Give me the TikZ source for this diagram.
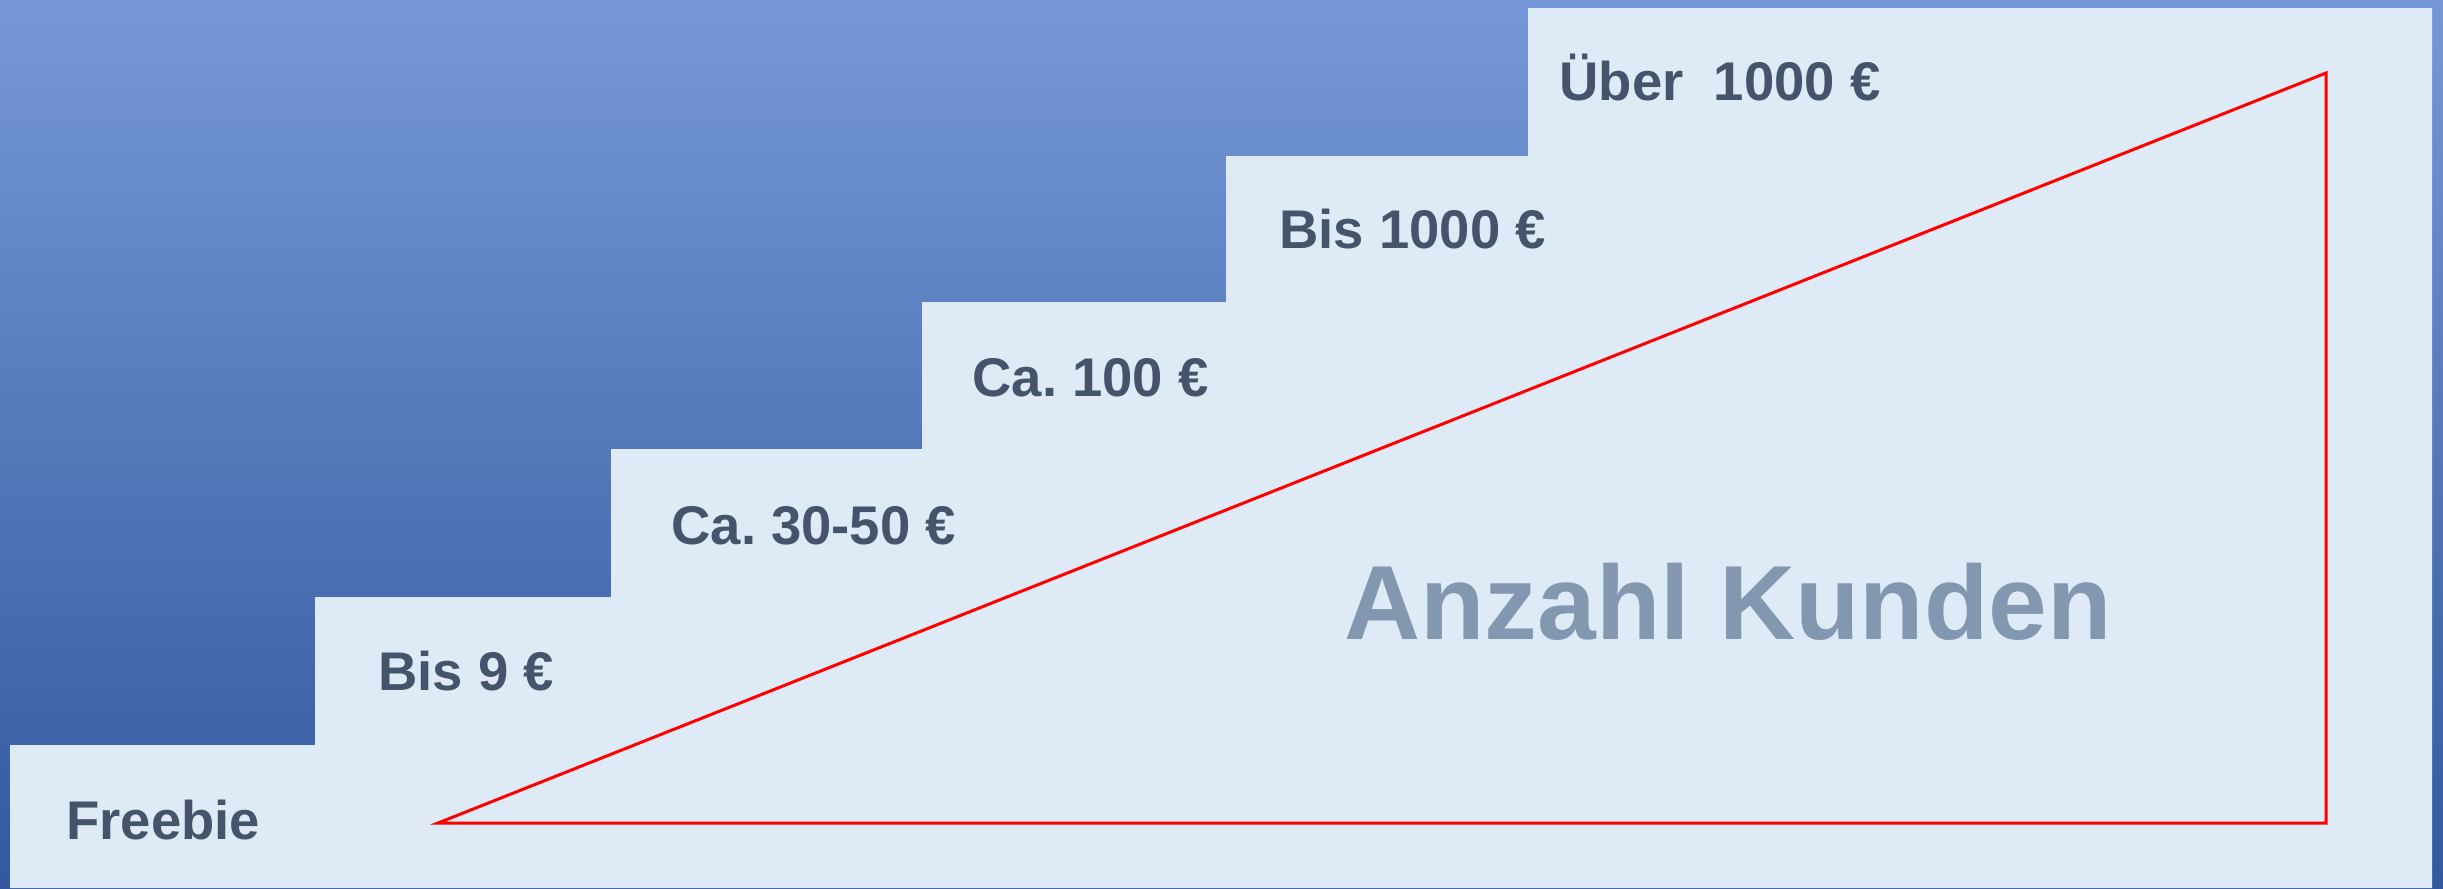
\documentclass[tikz,border=0pt]{standalone}
\usepackage{fontspec}
\setmainfont{Liberation Sans}
\usepackage{xcolor}
\definecolor{hellblau}{HTML}{DEEAF5}
\definecolor{obenblau}{HTML}{7698D6}
\definecolor{untenblau}{HTML}{33589F}
\definecolor{preisgrau}{HTML}{44546A}
\definecolor{kundgrau}{HTML}{8497B0}
\frenchspacing
\begin{document}
\begin{tikzpicture}[thick,
	preis/.style={anchor=base west,inner sep=0pt,text=preisgrau,font=\fontsize{15.5pt}{0}\selectfont\bfseries},
	kunden/.style={anchor=base west,inner sep=0pt,text=kundgrau,font=\fontsize{30pt}{0}\selectfont\bfseries}]
	
	% Hintergrund
	\shade[top color=obenblau,bottom color=untenblau] (0,0) rectangle (24.43,8.88);
	\useasboundingbox (0,0) rectangle (24.43,8.88);
	% Treppe
	\fill[hellblau] (0.10,0) -- (0.10,1.43) -- (3.15,1.43) -- (3.15,2.91) -- (6.11,2.91) -- (6.11,4.39)
		-- (9.22,4.39) -- (9.22,5.86) -- (12.26,5.86) -- (12.26,7.32) -- (15.28,7.32) -- (15.28,8.80)
		-- (24.32,8.80) -- (24.32,0) -- cycle;
	% Dreieck
	\draw[red,line width=0.03cm] (4.38,0.65) -- (23.26,8.15) -- (23.26,0.65) -- cycle;
	
	\node[preis] (freebie) at (0.65,0.49) {Freebie};
	\node[preis] (bis9) at (3.77,1.98) {Bis 9 €};
	\node[preis] (ca30) at (6.70,3.44) {Ca. 30-50 €};
	\node[preis] (ca100) at (9.71,4.92) {Ca. 100 €};
	\node[preis] (bis1000) at (12.78,6.40) {Bis 1000 €};
	\node[preis] (ueber1000) at (15.58,7.88) {Über\ \ 1000 €};
	\node[kunden] (anzahl) at (13.43,2.49) {Anzahl Kunden};

\end{tikzpicture}
\end{document}
